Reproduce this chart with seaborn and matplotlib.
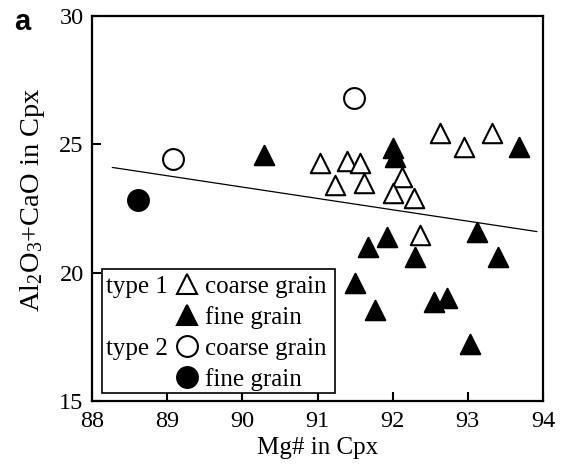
import numpy as np
import pandas as pd
import matplotlib
matplotlib.use("Agg")
import matplotlib.pyplot as plt
from matplotlib.lines import Line2D
from matplotlib.patches import Rectangle
import seaborn as sns

# ---- data ----
t1_coarse_x = [91.03, 91.39, 91.57, 91.23, 91.62, 92.12, 92.01, 92.29, 92.63, 92.95, 93.32, 92.36]
t1_coarse_y = [24.26, 24.35, 24.26, 23.41, 23.48, 23.74, 23.11, 22.92, 25.43, 24.91, 25.43, 21.47]

t1_fine_x = [90.29, 92.00, 92.03, 93.68, 91.93, 91.67, 92.30, 93.12, 93.40, 91.50, 92.55, 92.72, 91.76, 93.03]
t1_fine_y = [24.58, 24.86, 24.50, 24.91, 21.40, 20.99, 20.60, 21.57, 20.60, 19.58, 18.84, 19.00, 18.54, 17.22]

t2_coarse_x = [89.08, 91.48]
t2_coarse_y = [24.42, 26.79]

t2_fine_x = [88.61]
t2_fine_y = [22.83]

fit_x = [88.27, 93.92]
fit_y = [24.10, 21.60]

x_ticks = [88, 89, 90, 91, 92, 93, 94]
y_ticks = [15, 20, 25, 30]

legend_labels = ["coarse grain", "fine grain", "coarse grain", "fine grain"]
type_labels = ["type 1", "type 2"]

# ---- style ----
sns.set_style("white")
plt.rcParams["font.family"] = ["Liberation Serif", "DejaVu Serif"]
plt.rcParams["mathtext.fontset"] = "custom"
plt.rcParams["mathtext.rm"] = "Liberation Serif"
plt.rcParams["mathtext.it"] = "Liberation Serif:italic"
plt.rcParams["text.color"] = "black"
plt.rcParams["axes.labelcolor"] = "black"
plt.rcParams["xtick.color"] = "black"
plt.rcParams["ytick.color"] = "black"
FS = 18
FT = 17.5

fig = plt.figure(figsize=(5.66, 4.68), dpi=100)
ax = fig.add_axes([92 / 566, 1 - 401 / 468, (543 - 92) / 566, (401 - 16) / 468])

TRI = 14.0
CIR = 15.0
LW = 1.5

sns.lineplot(x=fit_x, y=fit_y, ax=ax, color="black", lw=0.9, zorder=2)
sns.scatterplot(x=t1_fine_x, y=t1_fine_y, ax=ax, marker="^", s=TRI**2,
                color="black", edgecolor="black", linewidth=LW, zorder=3)
sns.scatterplot(x=t2_fine_x, y=t2_fine_y, ax=ax, marker="o", s=CIR**2,
                color="black", edgecolor="black", linewidth=LW, zorder=3)
sns.scatterplot(x=t1_coarse_x, y=t1_coarse_y, ax=ax, marker="^", s=TRI**2,
                color="white", edgecolor="black", linewidth=LW, zorder=3)
sns.scatterplot(x=t2_coarse_x, y=t2_coarse_y, ax=ax, marker="o", s=CIR**2,
                color="white", edgecolor="black", linewidth=LW, zorder=3)

ax.set_xlim(88, 94)
ax.set_ylim(15, 30)
ax.set_xticks(x_ticks)
ax.set_yticks(y_ticks)
ax.set_xticklabels([str(v) for v in x_ticks], fontsize=FT)
ax.set_yticklabels([str(v) for v in y_ticks], fontsize=FT)
ax.tick_params(axis="both", direction="in", length=6.5, width=1.5,
               bottom=True, left=True, top=False, right=False, colors="black")
ax.tick_params(axis="x", pad=7)
ax.tick_params(axis="y", pad=6)
for sp in ax.spines.values():
    sp.set_linewidth(1.6)
    sp.set_color("black")

ax.set_xlabel("Mg# in Cpx", fontsize=FS, labelpad=4)
ax.set_ylabel(r"Al$\mathregular{_2}$O$\mathregular{_3}$+CaO in Cpx", fontsize=20.5)
ax.yaxis.set_label_coords(-0.10, 0.522)

fig.text(14 / 566, 1 - 30 / 468, "a", fontsize=21, fontweight="bold",
         family=["Liberation Sans", "DejaVu Sans"], va="baseline")

# ---- legend ----
frame = Rectangle((0.0215, 0.0216), 0.5388 - 0.0215, 0.342 - 0.0216,
                  transform=ax.transAxes, facecolor="white", edgecolor="black",
                  lw=1.2, zorder=4)
ax.add_patch(frame)

handles = [
    Line2D([], [], ls="none", marker="^", ms=TRI, mfc="white", mec="black", mew=LW),
    Line2D([], [], ls="none", marker="^", ms=TRI, mfc="black", mec="black", mew=LW),
    Line2D([], [], ls="none", marker="o", ms=CIR, mfc="white", mec="black", mew=LW),
    Line2D([], [], ls="none", marker="o", ms=CIR, mfc="black", mec="black", mew=LW),
]
leg = ax.legend(handles, legend_labels, loc="upper left",
                bbox_to_anchor=(0.1857, 0.327), frameon=False, fontsize=FS,
                handlelength=0.9, handletextpad=0.27, labelspacing=0.33,
                borderpad=0, borderaxespad=0)
leg.set_zorder(5)

texts = leg.get_texts()
for lab, idx in zip(type_labels, [0, 2]):
    ax.annotate(lab, xy=(0, 0), xycoords=texts[idx], xytext=(-27, 0),
                textcoords="offset points", ha="right", va="bottom",
                fontsize=FS, zorder=10)

fig.canvas.draw()
fig.savefig("out.png", dpi=100)
